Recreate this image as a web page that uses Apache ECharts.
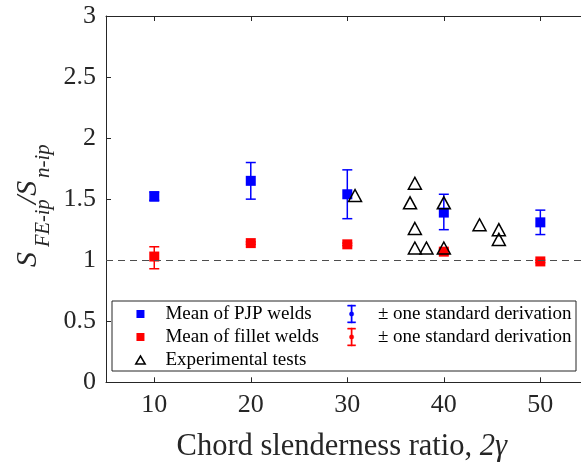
<!DOCTYPE html>
<html>
<head>
<meta charset="utf-8">
<script src="https://cdn.jsdelivr.net/npm/echarts@6/dist/echarts.min.js"></script>
<style>
html,body{margin:0;padding:0;background:#fff;overflow:hidden;}
#chart{width:700px;height:465px;}
</style>
</head>
<body>
<div id="chart"></div>
<script>
// ---- data ----
const slenderness = [10, 20, 30, 40, 50];
const pjpMean  = [1.52, 1.65, 1.54, 1.39, 1.31];
const pjpLow   = [1.49, 1.50, 1.34, 1.25, 1.21];
const pjpHigh  = [1.56, 1.80, 1.74, 1.54, 1.41];
const filletMean = [1.03, 1.14, 1.13, 1.07, 0.99];
const filletLow  = [0.93, 1.13, 1.12, 1.05, 0.98];
const filletHigh = [1.11, 1.15, 1.14, 1.09, 1.00];
const expX = [30.8, 37.0, 36.5, 40.0, 37.0, 37.0, 38.2, 40.0, 43.7, 45.7, 45.7];
const expY = [1.53, 1.63, 1.47, 1.47, 1.26, 1.10, 1.10, 1.10, 1.29, 1.25, 1.17];
const xTickValues = [10, 20, 30, 40, 50];
const referenceLevel = 1;

const FONT = '"Liberation Serif", "Times New Roman", serif';
const AX = '#262626';

const pjpMeanData = slenderness.map((x, i) => [x, pjpMean[i]]);
const filletMeanData = slenderness.map((x, i) => [x, filletMean[i]]);
const pjpErrData = slenderness.map((x, i) => [x, pjpLow[i], pjpHigh[i]]);
const filletErrData = slenderness.map((x, i) => [x, filletLow[i], filletHigh[i]]);
const expData = expX.map((x, i) => [x, expY[i]]);

function errRender(params, api) {
  const x = api.value(0), lo = api.value(1), hi = api.value(2);
  const a = api.coord([x, lo]), b = api.coord([x, hi]);
  const hw = 5;
  const st = {stroke: api.visual('color'), lineWidth: 1.5};
  return {type: 'group', children: [
    {type: 'line', shape: {x1: a[0], y1: a[1], x2: b[0], y2: b[1]}, style: st},
    {type: 'line', shape: {x1: a[0] - hw, y1: a[1], x2: a[0] + hw, y2: a[1]}, style: st},
    {type: 'line', shape: {x1: b[0] - hw, y1: b[1], x2: b[0] + hw, y2: b[1]}, style: st}
  ]};
}

const squareIcon = 'path://M0,0H10V10H0Z';
const triIcon = 'path://M5,0L10,8.5L0,8.5Z';
const ebIcon = 'path://M0,0H8V1.3H0Z M3.35,0H4.65V18H3.35Z M0,16.7H8V18H0Z M1.8,9A2.2,2.2,0,1,1,6.2,9A2.2,2.2,0,1,1,1.8,9Z';

const chart = echarts.init(document.getElementById('chart'), null, {renderer: 'canvas'});
const option = {
  animation: false,
  backgroundColor: '#fff',
  grid: {show: false, left: 106, top: 16, width: 482.6, height: 366.3, containLabel: false, outerBoundsMode: 'none'},
  xAxis: [{
    type: 'value', min: 5, max: 55, position: 'bottom',
    axisLine: {show: true, onZero: false, lineStyle: {color: AX, width: 1}},
    axisTick: {show: true, inside: true, length: 5, customValues: xTickValues, lineStyle: {color: AX}},
    axisLabel: {show: true, customValues: xTickValues, margin: 10, fontFamily: FONT, fontSize: 26, color: AX},
    splitLine: {show: false},
    name: '{a|Chord slenderness ratio, }{b|2\u03B3}',
    nameLocation: 'middle', nameGap: 49,
    nameTextStyle: {padding: [0, 11, 0, 0], rich: {
      a: {fontFamily: FONT, fontSize: 30.5, color: AX},
      b: {fontFamily: FONT, fontSize: 30.5, fontStyle: 'italic', color: AX}
    }}
  }, {
    type: 'value', min: 5, max: 55, position: 'top',
    axisLine: {show: true, onZero: false, lineStyle: {color: AX, width: 1}},
    axisTick: {show: true, inside: true, length: 5, customValues: xTickValues, lineStyle: {color: AX}},
    axisLabel: {show: false},
    splitLine: {show: false}
  }],
  yAxis: [{
    type: 'value', min: 0, max: 3, interval: 0.5,
    axisLine: {show: true, lineStyle: {color: AX, width: 1}},
    axisTick: {show: true, inside: true, length: 5, lineStyle: {color: AX}},
    axisLabel: {margin: 10, fontFamily: FONT, fontSize: 26, color: AX},
    splitLine: {show: false}
  }],
  legend: [{
    orient: 'vertical', left: 135, top: 304.5, padding: 0,
    itemWidth: 40, itemHeight: 8, itemGap: 4, selectedMode: false,
    textStyle: {fontFamily: FONT, fontSize: 19, color: '#000', lineHeight: 19},
    data: [
      {name: 'Mean of PJP welds', icon: squareIcon, itemStyle: {color: '#0000ff'}},
      {name: 'Mean of fillet welds', icon: squareIcon, itemStyle: {color: '#ff0000'}},
      {name: 'Experimental tests', icon: triIcon, itemStyle: {color: '#ffffff', borderColor: '#000000', borderWidth: 1.5}}
    ]
  }, {
    orient: 'vertical', left: 347.4, top: 304.5, padding: 0,
    itemWidth: 42.6, itemHeight: 18, itemGap: 4, selectedMode: false,
    textStyle: {fontFamily: FONT, fontSize: 19, color: '#000', lineHeight: 19},
    formatter: () => '\u00B1 one standard derivation',
    data: [
      {name: 'PJP SD', icon: ebIcon, itemStyle: {color: '#0000ff', borderColor: '#0000ff', borderWidth: 0.4, opacity: 1}},
      {name: 'Fillet SD', icon: ebIcon, itemStyle: {color: '#ff0000', borderColor: '#ff0000', borderWidth: 0.4, opacity: 1}}
    ]
  }],
  graphic: [
    {type: 'rect', z: 1, shape: {x: 112, y: 301, width: 464, height: 70},
     style: {fill: '#ffffff', stroke: AX, lineWidth: 1}},
    {type: 'text', x: 28, y: 267, rotation: Math.PI / 2,
     style: {text: 'S', font: 'italic 30px "Liberation Serif"', fill: AX, align: 'left', verticalAlign: 'middle'}},
    {type: 'text', x: 43.5, y: 247, rotation: Math.PI / 2,
     style: {text: 'FE-ip', font: 'italic 20.5px "Liberation Serif"', fill: AX, align: 'left', verticalAlign: 'middle'}},
    {type: 'text', x: 28, y: 204, rotation: Math.PI / 2,
     style: {text: '/S', font: 'italic 30px "Liberation Serif"', fill: AX, align: 'left', verticalAlign: 'middle'}},
    {type: 'text', x: 43.5, y: 178, rotation: Math.PI / 2,
     style: {text: 'n-ip', font: 'italic 21px "Liberation Serif"', fill: AX, align: 'left', verticalAlign: 'middle'}}
  ],
  series: [
    {name: 'PJP SD', type: 'custom', renderItem: errRender, data: pjpErrData,
     encode: {x: 0, y: [1, 2]}, itemStyle: {color: '#0000ff'}, z: 2, silent: true},
    {name: 'Fillet SD', type: 'custom', renderItem: errRender, data: filletErrData,
     encode: {x: 0, y: [1, 2]}, itemStyle: {color: '#ff0000'}, z: 2, silent: true},
    {name: 'Mean of PJP welds', type: 'scatter', data: pjpMeanData, symbol: 'rect', symbolSize: 10,
     itemStyle: {color: '#0000ff', opacity: 1}, z: 3},
    {name: 'Mean of fillet welds', type: 'scatter', data: filletMeanData, symbol: 'rect', symbolSize: 10,
     itemStyle: {color: '#ff0000', opacity: 1}, z: 3,
     markLine: {silent: true, symbol: 'none', label: {show: false},
       lineStyle: {color: '#4d4d4d', type: [7, 5], width: 1.2},
       data: [{yAxis: referenceLevel}]}},
    {name: 'Experimental tests', type: 'scatter', data: expData, symbol: 'triangle', symbolSize: [13, 12],
     itemStyle: {color: 'rgba(0,0,0,0)', borderColor: '#000000', borderWidth: 1.5, opacity: 1}, z: 4}
  ]
};
chart.setOption(option);
</script>
</body>
</html>
